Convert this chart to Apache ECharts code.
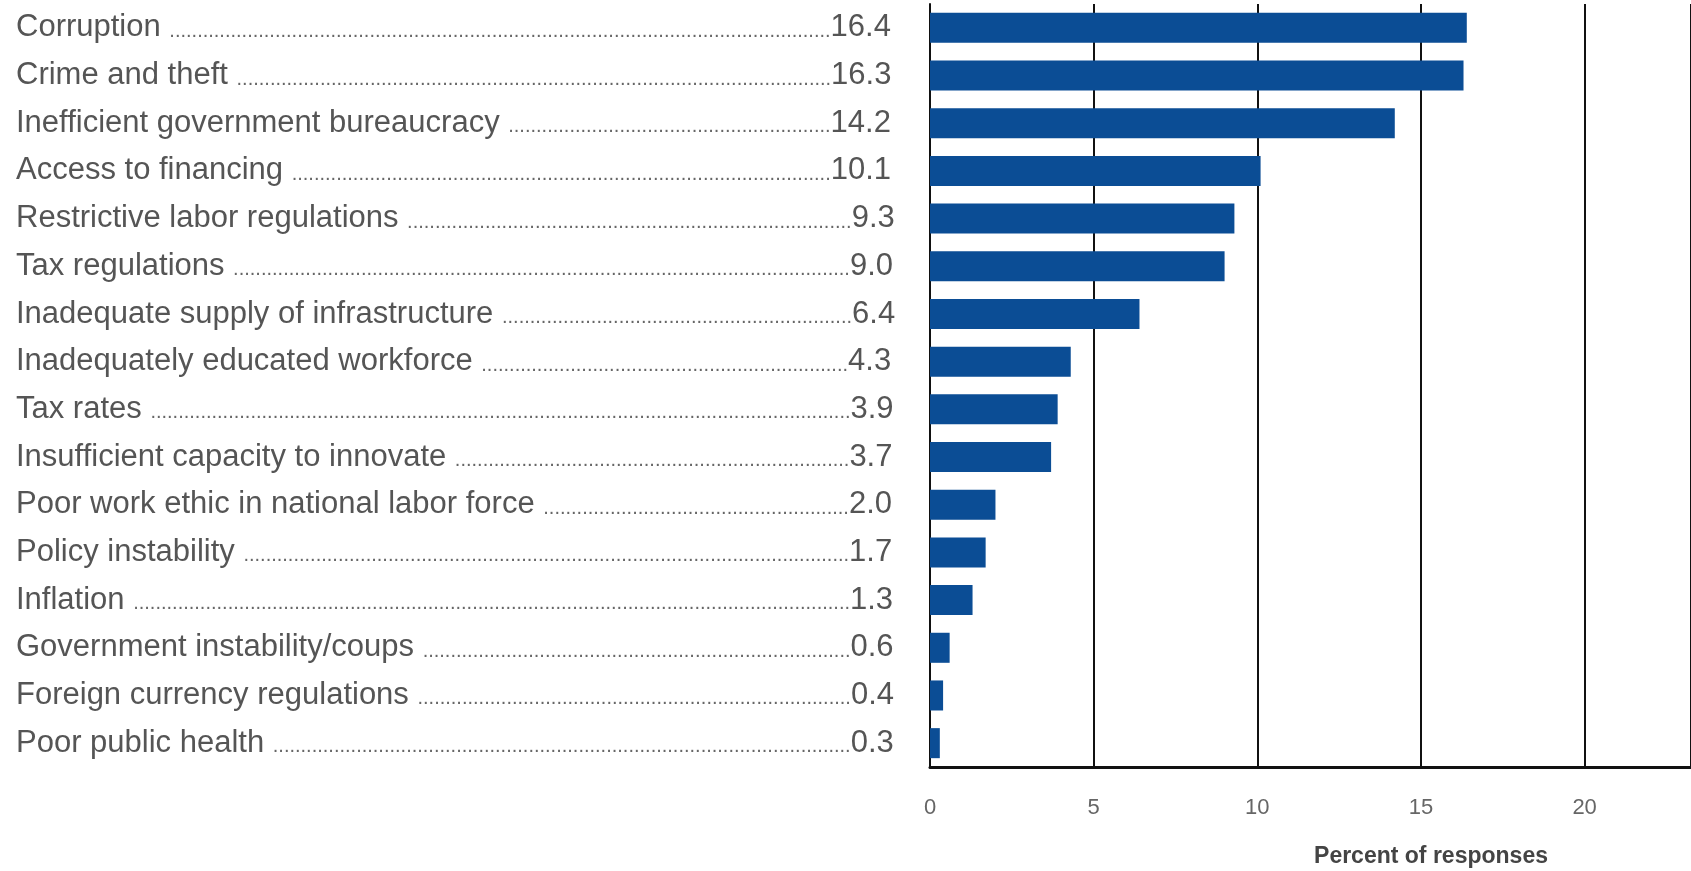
<!DOCTYPE html>
<html>
<head>
<meta charset="utf-8">
<script src="https://cdn.jsdelivr.net/npm/echarts@6/dist/echarts.min.js"></script>
<style>
html,body{margin:0;padding:0;background:#fff;}
#chart{width:1691px;height:871px;}
</style>
</head>
<body>
<div id="chart"></div>
<script>
const categories = [
  "Corruption",
  "Crime and theft",
  "Inefficient government bureaucracy",
  "Access to financing",
  "Restrictive labor regulations",
  "Tax regulations",
  "Inadequate supply of infrastructure",
  "Inadequately educated workforce",
  "Tax rates",
  "Insufficient capacity to innovate",
  "Poor work ethic in national labor force",
  "Policy instability",
  "Inflation",
  "Government instability/coups",
  "Foreign currency regulations",
  "Poor public health"
];
const values = [16.4, 16.3, 14.2, 10.1, 9.3, 9.0, 6.4, 4.3, 3.9, 3.7, 2.0, 1.7, 1.3, 0.6, 0.4, 0.3];
const tickValues = [0, 5, 10, 15, 20];
const axisTitle = "Percent of responses";

const LABEL_FONT = '"Liberation Sans", Arial, sans-serif';
const LABEL_SIZE = 31;
const DOT_SIZE = 20;
const LABEL_LEFT = 16;
const LABEL_RIGHT = 896;
const GRID_LEFT = 930;

const ctx = document.createElement('canvas').getContext('2d');
function tw(text, size) {
  ctx.font = size + 'px ' + LABEL_FONT;
  return ctx.measureText(text).width;
}
const totalW = LABEL_RIGHT - LABEL_LEFT;
const valueByName = {};
categories.forEach((c, i) => { valueByName[c] = values[i]; });

function buildLabel(name) {
  const v = valueByName[name].toFixed(1);
  const free = totalW - tw(name + ' ', LABEL_SIZE) - tw(v, LABEL_SIZE);
  const dw = tw('.', DOT_SIZE);
  const n = Math.max(0, Math.floor(free / dw));
  return '{n|' + name + ' }{d|' + '.'.repeat(n) + '}{v|' + v + '}';
}

const chart = echarts.init(document.getElementById('chart'));
chart.setOption({
  animation: false,
  backgroundColor: '#fff',
  grid: { left: GRID_LEFT, right: -10, top: 4, bottom: 104, containLabel: false },
  xAxis: {
    type: 'value',
    min: 0,
    max: 23.25,
    interval: 5,
    axisLine: { show: true, onZero: false, lineStyle: { color: '#111', width: 3 } },
    axisTick: { show: false },
    splitLine: { show: true, lineStyle: { color: '#111', width: 2 } },
    axisLabel: {
      margin: 30,
      color: '#666',
      fontFamily: '"Liberation Sans Narrow", "Liberation Sans", sans-serif',
      fontSize: 22,
      showMaxLabel: false,
      formatter: function (v) { return tickValues.indexOf(v) >= 0 ? String(v) : ''; }
    }
  },
  yAxis: {
    type: 'category',
    data: categories,
    inverse: true,
    axisLine: { show: true, lineStyle: { color: '#111', width: 2 } },
    axisTick: { show: false },
    splitLine: { show: false },
    axisLabel: {
      align: 'left',
      margin: GRID_LEFT - LABEL_LEFT,
      formatter: buildLabel,
      rich: {
        n: { fontFamily: LABEL_FONT, fontSize: LABEL_SIZE, color: '#555' },
        d: { fontFamily: LABEL_FONT, fontSize: DOT_SIZE, color: '#666', verticalAlign: 'bottom', padding: [0, 0, 2, 0] },
        v: { fontFamily: LABEL_FONT, fontSize: LABEL_SIZE, color: '#555' }
      }
    }
  },
  title: {
    text: axisTitle,
    left: 1426,
    top: 840,
    textAlign: 'center',
    textStyle: {
      fontFamily: '"Liberation Sans Narrow", "Liberation Sans", sans-serif',
      fontWeight: 'bold',
      fontSize: 23,
      color: '#444'
    }
  },
  series: [{
    type: 'bar',
    data: values,
    barCategoryGap: '37%',
    itemStyle: { color: '#0b4d95' },
    z: 3
  }]
});
</script>
</body>
</html>
